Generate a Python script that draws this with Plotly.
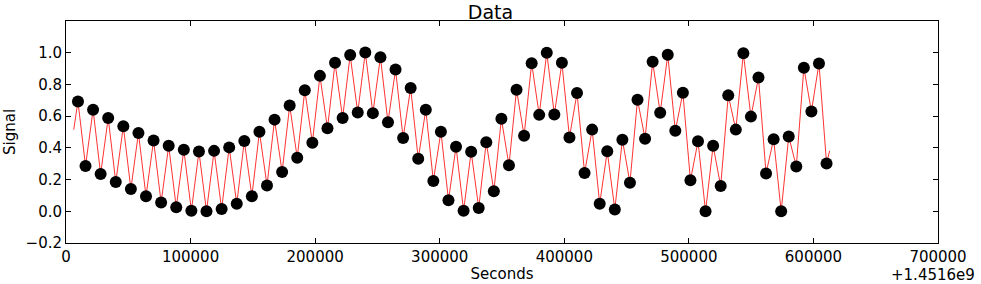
import plotly.graph_objects as go

OFFSET = 1.4516e9
T_START = 9600      # seconds after offset, first sample
T_STEP = 6070       # seconds between samples

signal = [
    0.693, 0.286, 0.640, 0.235, 0.589, 0.184, 0.536, 0.140, 0.494, 0.095,
    0.447, 0.055, 0.413, 0.025, 0.388, 0.004, 0.377, 0.000, 0.381, 0.015,
    0.403, 0.047, 0.443, 0.095, 0.502, 0.163, 0.578, 0.248, 0.667, 0.337,
    0.763, 0.432, 0.854, 0.523, 0.936, 0.589, 0.985, 0.623, 1.002, 0.619,
    0.972, 0.561, 0.894, 0.462, 0.778, 0.331, 0.640, 0.191, 0.502, 0.070,
    0.407, 0.004, 0.375, 0.021, 0.436, 0.127, 0.583, 0.290, 0.767, 0.477,
    0.934, 0.608, 1.000, 0.610, 0.936, 0.466, 0.746, 0.242, 0.515, 0.047,
    0.379, 0.011, 0.451, 0.180, 0.703, 0.458, 0.943, 0.621, 0.987, 0.508,
    0.748, 0.195, 0.441, 0.000, 0.413, 0.159, 0.731, 0.515, 0.996, 0.597,
    0.843, 0.239, 0.455, 0.000, 0.472, 0.282, 0.905, 0.629, 0.932, 0.301,
]
seconds = [T_START + i * T_STEP for i in range(len(signal))]

# the red line extends a little beyond the first and last markers
line_start = (6200, 0.515)
line_end = (613000, 0.381)
line_x = [line_start[0]] + seconds + [line_end[0]]
line_y = [line_start[1]] + signal + [line_end[1]]

x_ticks = [0, 100000, 200000, 300000, 400000, 500000, 600000, 700000]
y_ticks = [-0.2, 0.0, 0.2, 0.4, 0.6, 0.8, 1.0]

FONT = "DejaVu Sans"

fig = go.Figure()
fig.add_trace(go.Scatter(x=line_x, y=line_y, mode="lines",
                         line=dict(color="#ff3333", width=1), showlegend=False))
fig.add_trace(go.Scatter(x=seconds, y=signal, mode="markers",
                         marker=dict(color="black", size=12, line=dict(width=0)),
                         showlegend=False))

axis_common = dict(showline=True, linecolor="black", linewidth=1, mirror="ticks",
                   ticks="inside", ticklen=5, tickcolor="black", showgrid=False,
                   zeroline=False, automargin=False,
                   tickfont=dict(family=FONT, size=15, color="black"))

fig.update_layout(
    width=981, height=284,
    margin=dict(l=66, r=43, t=21, b=41, autoexpand=False),
    paper_bgcolor="white", plot_bgcolor="white",
    title=dict(text="Data", x=0.5, xanchor="center", y=0.957, yanchor="middle",
               font=dict(family=FONT, size=19, color="black")),
    xaxis=dict(range=[0, 700000], tickvals=x_ticks, ticktext=[str(v) for v in x_ticks],
               ticklabelstandoff=0,
               title=dict(text="Seconds", font=dict(family=FONT, size=15, color="black"), standoff=3),
               **axis_common),
    yaxis=dict(range=[-0.2, 1.2], tickvals=y_ticks, ticktext=[f"{v:.1f}".replace("-", "\u2212") for v in y_ticks],
               title=dict(text="Signal", font=dict(family=FONT, size=15, color="black"), standoff=6),
               **axis_common),
    annotations=[dict(text="+1.4516e9", xref="paper", yref="paper", x=1.045, y=-0.142,
                      xanchor="right", yanchor="middle", showarrow=False,
                      font=dict(family=FONT, size=15, color="black"))],
)

fig.write_html("out.html")
